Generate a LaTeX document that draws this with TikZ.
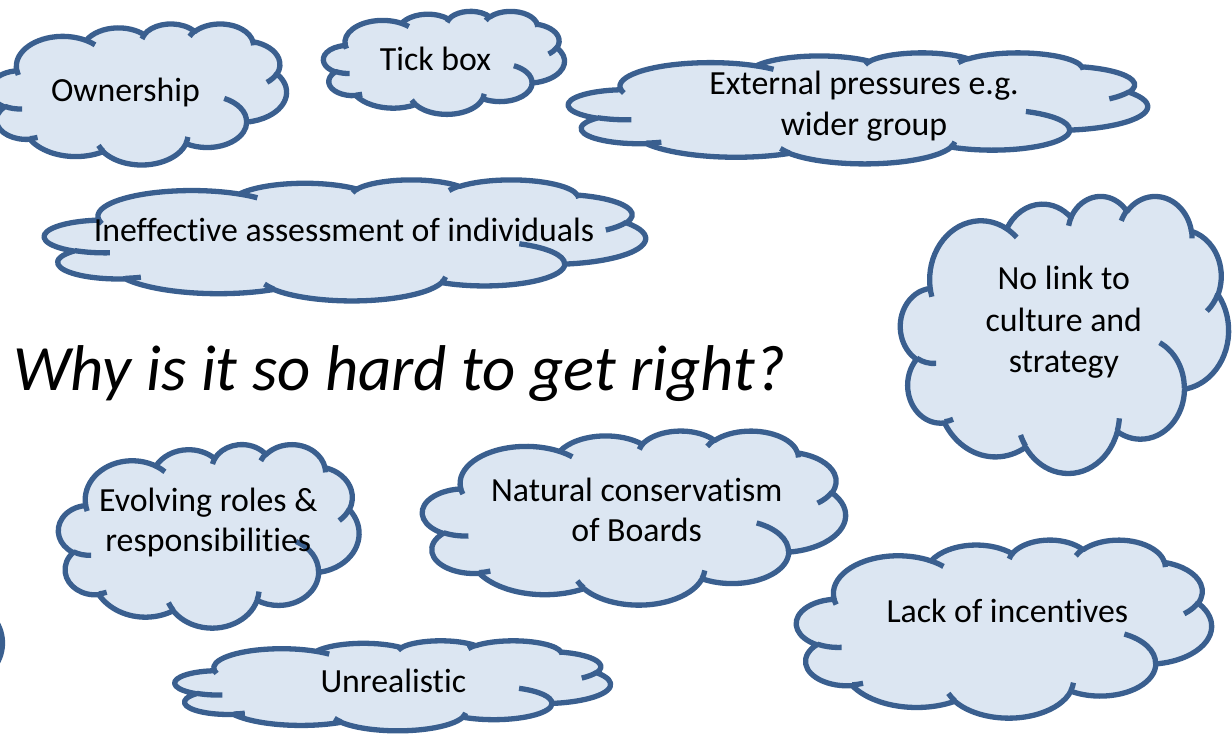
\documentclass[tikz,border=0pt]{standalone}
\usepackage{fontspec}
\setmainfont{Carlito}[Ligatures=NoCommon]

\definecolor{cloudfill}{HTML}{DCE6F2}
\definecolor{cloudedge}{HTML}{3A5F8F}

% Cloud outline in a 43.2 x 43.2 box (y pointing down).
% Each arc is given by its radii and by its start and sweep angle, measured
% as seen from the centre; they are turned into parametric angles here.
\newcommand\setcldarc[5]{%
  \pgfmathparse{atan2((#2)*sin(#4),(#3)*cos(#4))}\let\cldtmpS\pgfmathresult
  \pgfmathparse{atan2((#2)*sin((#4)+(#5)),(#3)*cos((#4)+(#5)))}\let\cldtmpE\pgfmathresult
  \pgfmathparse{\cldtmpE-\cldtmpS}\let\cldtmpD\pgfmathresult
  \pgfmathparse{(#5)>0 ? (\cldtmpD<0 ? \cldtmpD+360 : \cldtmpD) : (\cldtmpD>0 ? \cldtmpD-360 : \cldtmpD)}%
  \expandafter\xdef\csname cldarc#1\endcsname{arc[x radius=#2,y radius=#3,start angle=\cldtmpS,delta angle=\pgfmathresult]}%
}
% outline
\setcldarc{A}{6.753}{9.190}{-190.48748}{123.78053}
\setcldarc{B}{5.333}{7.267}{-144.10238}{89.94523}
\setcldarc{C}{4.365}{5.945}{-145.80792}{99.72302}
\setcldarc{D}{4.857}{6.595}{-130.98607}{117.24173}
\setcldarc{E}{5.333}{7.273}{-78.70888}{109.02692}
\setcldarc{F}{6.775}{9.220}{-46.26725}{130.26900}
\setcldarc{G}{5.785}{7.867}{0.62502}{114.03333}
\setcldarc{H}{6.752}{9.215}{22.45160}{115.17255}
\setcldarc{I}{7.720}{10.543}{66.24263}{75.71102}
\setcldarc{J}{4.360}{5.918}{-274.94208}{146.73557}
\setcldarc{K}{4.345}{5.945}{-246.82850}{152.51885}
% inner strokes
\setcldarc{a}{4.345}{5.945}{86.74200}{26.42950}
\setcldarc{b}{4.360}{5.918}{73.61047}{11.44747}
\setcldarc{c}{6.752}{9.215}{137.62415}{14.08110}
\setcldarc{d}{6.752}{9.215}{6.45327}{15.99835}
\setcldarc{e}{5.785}{7.867}{-70.29235}{70.91737}
\setcldarc{f}{5.333}{7.273}{30.31803}{27.75150}
\setcldarc{g}{4.857}{6.595}{-13.74433}{14.85115}
\setcldarc{h}{4.857}{6.595}{-149.18145}{18.19610}
\setcldarc{i}{4.365}{5.945}{-163.49427}{17.68500}
\setcldarc{j}{6.753}{9.190}{-66.70695}{12.31935}
\setcldarc{k}{6.753}{9.190}{157.65435}{11.85817}

\tikzset{
  cloudbody/.style={draw=cloudedge, fill=cloudfill, line width=5.3pt, line join=round},
  cloudtick/.style={draw=cloudedge, line width=5.3pt},
  cloudtext/.style={anchor=base, inner sep=0pt, text=black,
    font=\fontsize{33.8}{40.5}\selectfont},
  headline/.style={anchor=base west, inner sep=0pt, text=black,
    font=\fontsize{64.7}{78}\selectfont\itshape},
}

% \drawcloud{left}{top}{width}{height} of the outline, in px
\newcommand\drawcloud[4]{%
  \pgfmathsetmacro\cldw{#3/43.2}%
  \pgfmathsetmacro\cldh{#4/43.2}%
  \begin{scope}[xshift=#1pt, yshift=-#2pt, x={(\cldw pt,0pt)}, y={(0pt,-\cldh pt)}]
    \path[cloudbody] (3.900,14.370) \cldarcA \cldarcB \cldarcC \cldarcD \cldarcE
      \cldarcF \cldarcG \cldarcH \cldarcI \cldarcJ \cldarcK -- cycle;
    \path[cloudtick]
      (4.693,26.177) \cldarca
      (6.928,34.899) \cldarcb
      (16.478,39.090) \cldarcc
      (28.827,34.751) \cldarcd
      (34.129,22.954) \cldarce
      (41.798,15.354) \cldarcf
      (38.324,5.426) \cldarcg
      (29.078,3.952) \cldarch
      (22.141,4.720) \cldarci
      (14.000,5.192) \cldarcj
      (4.127,15.789) \cldarck;
  \end{scope}}

\begin{document}
\begin{tikzpicture}[x=1pt, y=-1pt]
  \useasboundingbox (0,0) rectangle (1232,735);
  \clip (0,0) rectangle (1232,735);

  % clouds
  \drawcloud{-10}{23.5}{296.5}{141}
  \drawcloud{323.5}{11}{241}{103}
  \drawcloud{568.5}{52.5}{579}{111}
  \drawcloud{44.5}{179.5}{601}{121}
  \drawcloud{900.5}{195.5}{328}{277}
  \drawcloud{58.5}{444}{300.5}{183.5}
  \drawcloud{422.5}{430.5}{423}{174}
  \drawcloud{796.5}{539.5}{415}{178}
  \drawcloud{175}{640.5}{435.5}{90}
  % shape reaching in from the left edge
  \path[cloudbody] (-37.5,643) circle[radius=40];

  % texts
  \node[cloudtext] (own) at (125.5,102) {Ownership};
  \node[cloudtext] (tick) at (435.5,70.7) {Tick box};
  \node[cloudtext] (ext1) at (864,95) {External pressures e.g.};
  \node[cloudtext] (ext2) at (864,136) {wider group};
  \node[cloudtext] (ineff) at (344,242) {Ineffective assessment of individuals};
  \node[cloudtext] (link1) at (1063.8,290) {No link to};
  \node[cloudtext] (link2) at (1063.8,331.5) {culture and};
  \node[cloudtext] (link3) at (1063.8,372.5) {strategy};
  \node[headline] (why) at (13,390) {Why is it so hard to get right?};
  \node[cloudtext] (evo1) at (208.3,511.5) {Evolving roles \&};
  \node[cloudtext] (evo2) at (208.3,551.5) {responsibilities};
  \node[cloudtext] (nat1) at (636.7,501.5) {Natural conservatism};
  \node[cloudtext] (nat2) at (636.7,541.5) {of Boards};
  \node[cloudtext] (lack) at (1007.3,622.7) {Lack of incentives};
  \node[cloudtext] (unreal) at (393.3,692.7) {Unrealistic};
\end{tikzpicture}
\end{document}
